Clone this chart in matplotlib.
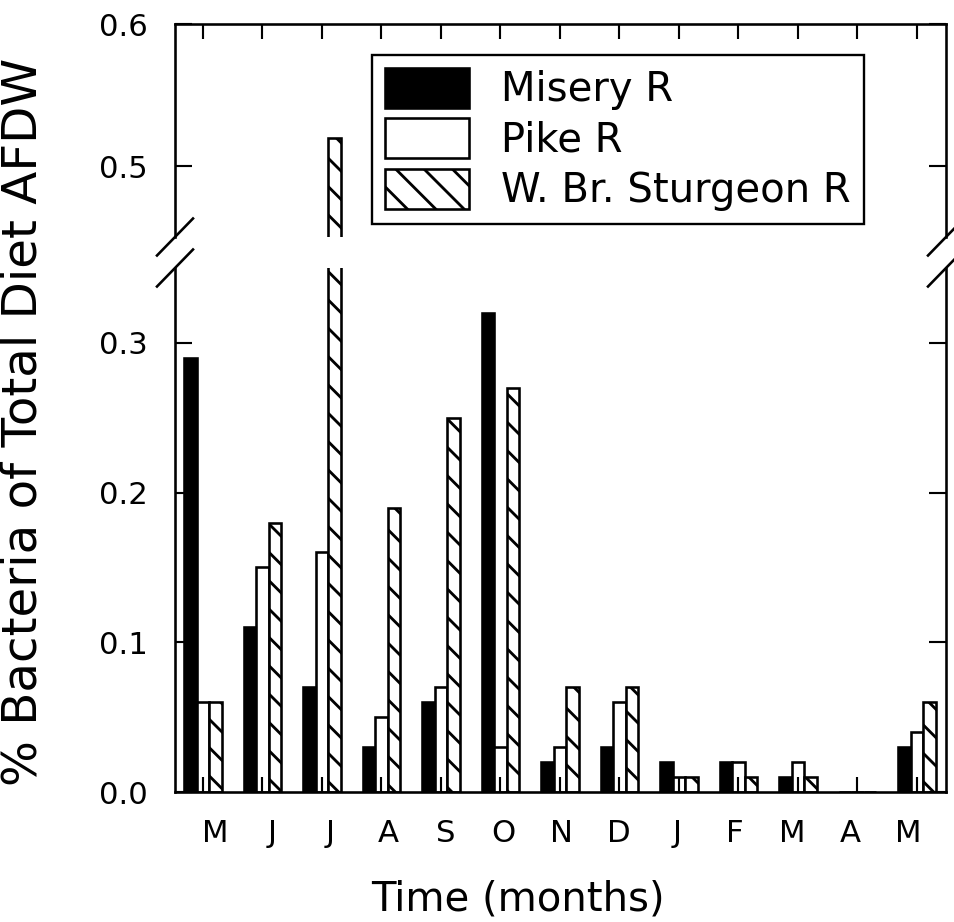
import numpy as np
import matplotlib
matplotlib.use("Agg")
import matplotlib.pyplot as plt

months = ["M", "J", "J", "A", "S", "O", "N", "D", "J", "F", "M", "A", "M"]
misery = [0.29, 0.11, 0.07, 0.03, 0.06, 0.32, 0.02, 0.03, 0.02, 0.02, 0.01, 0.0, 0.03]
pike = [0.06, 0.15, 0.16, 0.05, 0.07, 0.03, 0.03, 0.06, 0.01, 0.02, 0.02, 0.0, 0.04]
sturgeon = [0.06, 0.18, 0.52, 0.19, 0.25, 0.27, 0.07, 0.07, 0.01, 0.01, 0.01, 0.0, 0.06]
series_names = ["Misery R", "Pike R", "W. Br. Sturgeon R"]

# high dpi so the hatch density gives the wide spacing of the original
DPI = 170
W, H = 955, 922
plt.rcParams['font.family'] = ['DejaVu Sans']
plt.rcParams['hatch.linewidth'] = 1.2
plt.rcParams['hatch.color'] = 'black'


def px_box(left, top, right, bottom):
    return [left / W, 1 - bottom / H, (right - left) / W, (bottom - top) / H]


fig = plt.figure(figsize=(W / DPI, H / DPI), dpi=DPI)
ax_top = fig.add_axes(px_box(175, 24, 946, 237))
ax_bot = fig.add_axes(px_box(175, 268, 946, 792))

x = np.arange(len(months))
w = 0.21
lw = 1.1

for ax in (ax_top, ax_bot):
    b1 = ax.bar(x - w, misery, w, color='black', edgecolor='black', linewidth=lw)
    b2 = ax.bar(x, pike, w, color='white', edgecolor='black', linewidth=lw)
    b3 = ax.bar(x + w, sturgeon, w, color='white', edgecolor='black', linewidth=lw, hatch='\\\\')
    ax.set_xlim(-0.47, 12.49)
    for s in ax.spines.values():
        s.set_linewidth(1.1)
    ax.tick_params(axis='y', direction='in', left=True, right=True, length=7.2, width=0.9,
                   labelsize=13, pad=11.5)
    ax.tick_params(axis='x', which='major', direction='in', length=6.4, width=0.9)

ax_top.set_ylim(0.45, 0.6)
ax_bot.set_ylim(0, 0.35)
ax_top.set_yticks([0.5, 0.6], ["0.5", "0.6"])
ax_bot.set_yticks([0.0, 0.1, 0.2, 0.3], ["0.0", "0.1", "0.2", "0.3"])

ax_top.spines['bottom'].set_visible(False)
ax_bot.spines['top'].set_visible(False)

ax_top.set_xticks(x, [""] * len(x))
ax_top.tick_params(axis='x', top=True, bottom=False, labelbottom=False)
ax_bot.set_xticks(x, [""] * len(x))
ax_bot.tick_params(axis='x', top=False, bottom=True)

# month letters sit on a slightly tighter spacing than the ticks in the original
label_pos = x * 0.9706 + 0.2
ax_bot.set_xticks(label_pos, months, minor=True)
ax_bot.tick_params(axis='x', which='minor', length=0, labelsize=13, pad=11.5)

# break marks on both side spines
for ax, yy, dy in ((ax_top, 0.0, 18.5 / 213), (ax_bot, 1.0, 18.5 / 524)):
    dx = 18 / 771
    for xx in (0.0, 1.0):
        ax.plot([xx - dx, xx + dx], [yy - dy, yy + dy], transform=ax.transAxes,
                color='black', linewidth=1.1, clip_on=False)

leg = ax_top.legend([b1, b2, b3], series_names, loc='upper left',
                    bbox_to_anchor=((372 - 175) / 771, 1 - (55 - 24) / 213),
                    borderaxespad=0, fontsize=17, handlelength=2.1, handleheight=1.15,
                    handletextpad=0.8, borderpad=0.32, labelspacing=0.2,
                    fancybox=False, framealpha=1, edgecolor='black')
leg.get_frame().set_linewidth(1.0)

fig.text(517.5 / W, 1 - 910 / H, "Time (months)", fontsize=17, ha='center', va='baseline')
fig.text(37 / W, 1 - 422 / H, "% Bacteria of Total Diet AFDW", fontsize=20.5, rotation=90,
         rotation_mode='anchor', ha='center', va='baseline')

fig.savefig("out.png", dpi=DPI)
